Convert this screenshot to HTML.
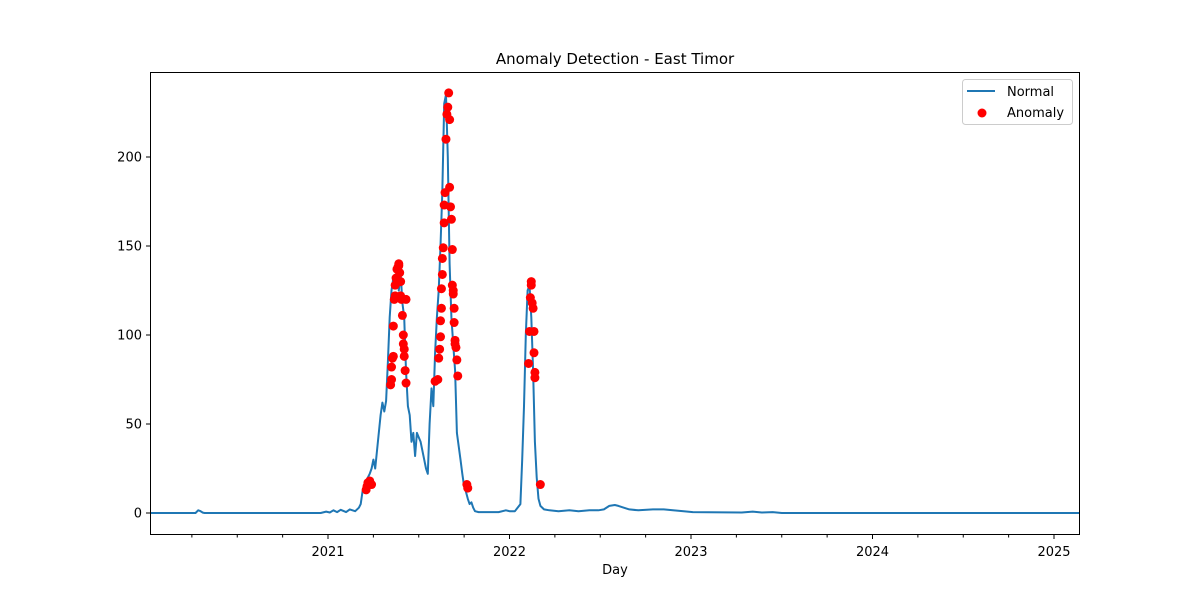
<!DOCTYPE html>
<html><head><meta charset="utf-8"><style>
body{margin:0;background:#fff;}
svg text{font-family:"DejaVu Sans","Liberation Sans",sans-serif;}
</style></head><body>
<svg id="chart" width="1200" height="600" xmlns="http://www.w3.org/2000/svg">
<rect width="1200" height="600" fill="#fff"/>
<text x="615" y="64" font-size="15" text-anchor="middle">Anomaly Detection - East Timor</text>
<g id="grid"></g>
<g id="plot"></g>
<rect x="150.5" y="72.5" width="929" height="462" fill="none" stroke="#000" stroke-width="1"/>
<text x="615" y="574" font-size="13" text-anchor="middle">Day</text>
<g>
<rect x="962.5" y="79.5" width="110" height="45" rx="3" fill="#fff" stroke="#ccc"/>
<line x1="967" y1="91" x2="995" y2="91" stroke="#1f77b4" stroke-width="2"/>
<text x="1007" y="96" font-size="13">Normal</text>
<circle cx="982" cy="113" r="4.5" fill="#ff0000"/>
<text x="1007" y="117" font-size="13">Anomaly</text>
</g>
</svg>
<script>
const lineT=[
2020.02,2020.27,2020.285,2020.295,2020.31,2020.32,2020.96,2020.99,2021.01,2021.03,
2021.05,2021.07,2021.10,2021.12,2021.15,2021.17,2021.18,2021.19,2021.20,2021.22,
2021.23,2021.24,2021.25,2021.26,2021.27,2021.29,2021.30,2021.31,2021.32,2021.33,
2021.34,2021.35,2021.36,2021.37,2021.38,2021.39,2021.40,2021.41,2021.42,2021.43,
2021.44,2021.45,2021.46,2021.47,2021.48,2021.49,2021.51,2021.52,2021.53,2021.54,
2021.55,2021.56,2021.57,2021.58,2021.59,2021.60,2021.61,2021.62,2021.63,2021.64,
2021.65,2021.66,2021.67,2021.68,2021.69,2021.70,2021.71,2021.73,2021.74,2021.75,
2021.76,2021.77,2021.78,2021.79,2021.80,2021.81,2021.83,2021.94,2021.98,2022.00,
2022.03,2022.06,2022.07,2022.08,2022.09,2022.10,2022.11,2022.12,2022.13,2022.14,
2022.15,2022.16,2022.17,2022.19,2022.22,2022.27,2022.33,2022.38,2022.44,2022.49,
2022.52,2022.55,2022.58,2022.60,2022.63,2022.66,2022.71,2022.79,2022.85,2022.90,
2022.96,2023.01,2023.28,2023.34,2023.39,2023.45,2023.50,2024.00,2025.15];
const lineV=[
0,0,1.5,1.2,0.2,0,0,0.8,0.3,1.5,
0.5,1.8,0.5,2,1,3,5,12,15,20,
22,25,30,25,35,55,62,57,63,85,
110,125,132,128,138,125,135,118,110,80,
60,55,40,45,32,45,40,35,30,25,
22,50,70,60,90,110,125,150,180,230,
235,200,140,110,95,80,45,30,22,15,
12,8,5,6,3,1,0.5,0.5,1.5,1,
1,5,30,60,100,125,128,110,80,40,
20,8,4,2,1.5,1,1.5,1,1.5,1.5,
2,4,4.5,4,3,2,1.5,2,2,1.5,
1,0.5,0.3,0.8,0.3,0.5,0,0,0];
const anomT=[2021.21,2021.215,2021.22,2021.23,2021.24,2021.345,2021.35,2021.35,2021.355,2021.36,2021.36,2021.365,2021.37,2021.37,2021.375,2021.38,2021.385,2021.39,2021.39,2021.395,2021.4,2021.4,2021.405,2021.41,2021.415,2021.415,2021.42,2021.42,2021.425,2021.43,2021.43,
2021.59,2021.605,2021.61,2021.615,2021.62,2021.62,2021.625,2021.625,2021.63,2021.63,2021.635,2021.64,2021.64,2021.645,2021.65,2021.655,2021.66,2021.665,2021.67,2021.67,2021.675,2021.68,2021.685,2021.685,2021.69,2021.69,2021.695,2021.695,2021.7,2021.7,2021.705,2021.71,2021.715,2021.765,2021.77,
2022.105,2022.11,2022.115,2022.12,2022.12,2022.125,2022.13,2022.135,2022.135,2022.14,2022.14,2022.17];
const anomV=[13,15,17,18,16,72,75,82,87,88,105,120,122,128,132,137,138,139,140,135,130,122,120,111,100,95,92,88,80,73,120,
74,75,87,92,99,108,115,126,134,143,149,163,173,180,210,224,228,236,221,183,172,165,148,128,125,123,115,107,97,95,93,86,77,16,14,
84,102,121,128,130,118,115,102,90,79,76,16];
const yTicks=[0,50,100,150,200];
const xYears=[2021,2022,2023,2024,2025];

const X0=150,X1=1080,Y0=535,Y1=72;
function xs(t){return 328+(t-2021)*181.5;}
function ys(v){return 513-v*1.78;}
const NS="http://www.w3.org/2000/svg";
const grid=document.getElementById('grid'),plot=document.getElementById('plot');
function mk(tag,attrs,parent){const e=document.createElementNS(NS,tag);for(const k in attrs)e.setAttribute(k,attrs[k]);parent.appendChild(e);return e;}
yTicks.forEach(v=>{const y=ys(v);
 const l=mk('line',{x1:X0-4,x2:X0,y1:y,y2:y,stroke:'#000'},grid);
 
 
 const t=mk('text',{x:X0-8,y:y+4.5,'font-size':13,'text-anchor':'end'},grid);
 
 
 t.textContent=v;});
for(let y=2020;y<=2025;y++){for(let m=0;m<12;m+=3){const t=y+m/12;const x=xs(t);if(x<X0||x>X1)continue;
 const major=m===0;
 const l=mk('line',{x1:x,x2:x,y1:Y0,y2:Y0+(major?4:2.5),stroke:'#000'},grid);
 
 }}
xYears.forEach(yr=>{const t=mk('text',{x:xs(yr),y:Y0+21,'font-size':13,'text-anchor':'middle'},grid);
 
 
 t.textContent=yr;});
let d='';lineT.forEach((t,i)=>{d+=(i?'L':'M')+Math.min(xs(t),X1).toFixed(1)+','+ys(lineV[i]).toFixed(1);});
const p=mk('path',{d:d,fill:'none',stroke:'#1f77b4','stroke-width':2,'stroke-linejoin':'round'},plot);


anomT.forEach((t,i)=>{const c=mk('circle',{cx:xs(t),cy:ys(anomV[i]),r:4.5,fill:'#ff0000'},plot);
 
 });
</script>
</body></html>
